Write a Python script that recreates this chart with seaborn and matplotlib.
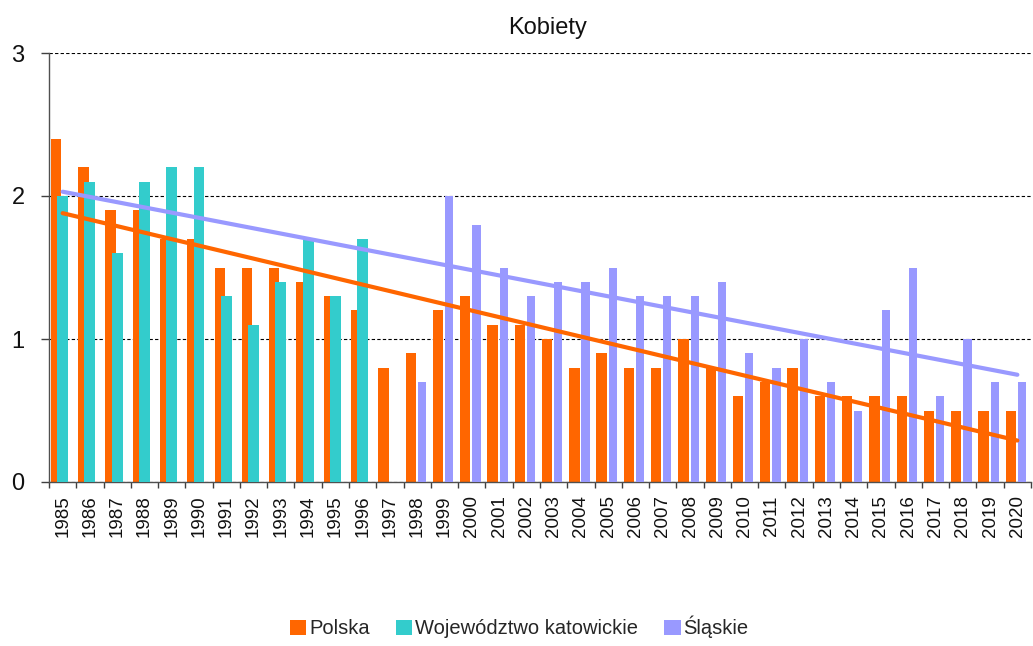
import numpy as np
import pandas as pd
import matplotlib
matplotlib.use("Agg")
import matplotlib.pyplot as plt
from matplotlib.patches import Patch
import seaborn as sns

# ---------------- data ----------------
years = list(range(1985, 2021))
polska = [2.4, 2.2, 1.9, 1.9, 1.7, 1.7, 1.5, 1.5, 1.5, 1.4, 1.3, 1.2,
          0.8, 0.9, 1.2, 1.3, 1.1, 1.1, 1.0, 0.8, 0.9, 0.8, 0.8, 1.0,
          0.8, 0.6, 0.7, 0.8, 0.6, 0.6, 0.6, 0.6, 0.5, 0.5, 0.5, 0.5]
kat_years = list(range(1985, 1997))
katowickie = [2.0, 2.1, 1.6, 2.1, 2.2, 2.2, 1.3, 1.1, 1.4, 1.7, 1.3, 1.7]
sl_years = list(range(1998, 2021))
slaskie = [0.7, 2.0, 1.8, 1.5, 1.3, 1.4, 1.4, 1.5, 1.3, 1.3, 1.3, 1.4,
           0.9, 0.8, 1.0, 0.7, 0.5, 1.2, 1.5, 0.6, 1.0, 0.7, 0.7]
trend_years = [1985, 2020]
trend_polska = [1.88, 0.29]
trend_slaskie = [2.03, 0.75]
y_ticks = [0, 1, 2, 3]
title = "Kobiety"
labels = ["Polska", "Województwo katowickie", "Śląskie"]
colors = ["#FF6600", "#33CCCC", "#9999FF"]

# ---------------- style ----------------
sns.set_theme(style="white")
plt.rcParams["font.family"] = ["Liberation Sans", "DejaVu Sans"]

W, H = 1033, 646
fig = plt.figure(figsize=(W / 100, H / 100), dpi=100)
ax = fig.add_axes([49 / W, (H - 482) / H, (1031 - 49) / W, (482 - 53) / H])

# grid behind
ax.set_axisbelow(True)
ax.yaxis.grid(True, color="black", linewidth=0.8, linestyle=(0, (3, 2)))

df_p = pd.DataFrame({"x": np.array(years) - 0.24, "y": polska})
df_k = pd.DataFrame({"x": np.array(kat_years) + 0.0, "y": katowickie})
df_s = pd.DataFrame({"x": np.array(sl_years) + 0.17, "y": slaskie})

sns.barplot(data=df_p, x="x", y="y", native_scale=True, width=0.38,
            color=colors[0], saturation=1, errorbar=None, ax=ax,
            linewidth=0, zorder=2)
sns.barplot(data=df_k, x="x", y="y", native_scale=True, width=0.40,
            color=colors[1], saturation=1, errorbar=None, ax=ax,
            linewidth=0, zorder=3)
sns.barplot(data=df_s, x="x", y="y", native_scale=True, width=0.30,
            color=colors[2], saturation=1, errorbar=None, ax=ax,
            linewidth=0, zorder=3)

sns.lineplot(x=trend_years, y=trend_polska, color=colors[0], linewidth=3,
             solid_capstyle="round", ax=ax, zorder=5)
sns.lineplot(x=trend_years, y=trend_slaskie, color=colors[2], linewidth=3,
             solid_capstyle="round", ax=ax, zorder=5)

# ---------------- axes ----------------
ax.set_xlim(years[0] - 0.5, years[-1] + 0.5)
ax.set_ylim(0, 3)
ax.set_xlabel("")
ax.set_ylabel("")

ax.set_xticks(years)
ax.set_xticklabels([str(y) for y in years], rotation=90, fontsize=13.5,
                   color="#111111")
ax.set_xticks(np.arange(years[0] - 0.5, years[-1] + 1.0, 1.0), minor=True)
ax.tick_params(axis="x", which="major", length=0, pad=9.5)
ax.tick_params(axis="x", which="minor", length=4.5, width=1.0,
               color="#404040", direction="out", bottom=True)

ax.set_yticks(y_ticks)
ax.set_yticklabels([str(v) for v in y_ticks], fontsize=17, color="#111111")
ax.tick_params(axis="y", which="major", length=6, width=1.0,
               color="#404040", direction="out", left=True, pad=11.5)

for s in ["top", "right"]:
    ax.spines[s].set_visible(False)
for s in ["left", "bottom"]:
    ax.spines[s].set_color("#505050")
    ax.spines[s].set_linewidth(1.0)

ax.set_title(title, fontsize=17, pad=14, color="#111111", x=0.508)

handles = [Patch(facecolor=c, edgecolor="none") for c in colors]
fig.legend(handles, labels, loc="center", bbox_to_anchor=(519.5 / W, 1 - 627 / H),
           ncol=3, frameon=False, fontsize=14.5, handlelength=0.8,
           handleheight=0.8, handletextpad=0.15, columnspacing=1.3)

fig.savefig("out.png", dpi=100)
